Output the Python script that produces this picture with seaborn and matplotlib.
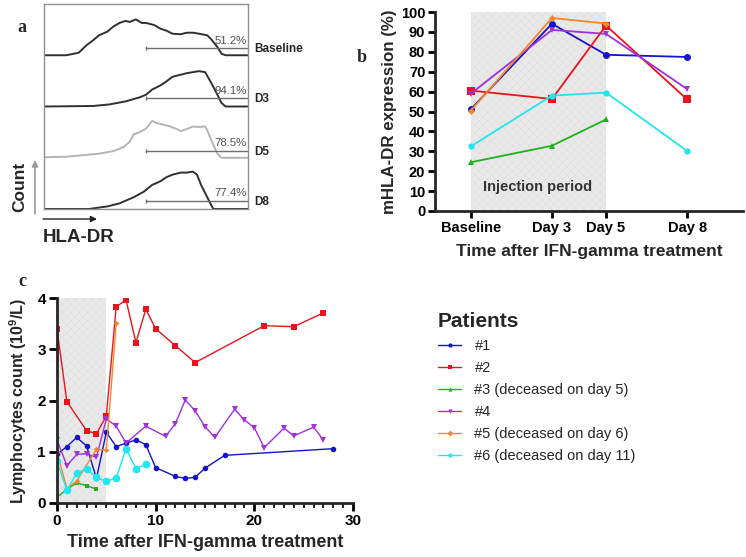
import numpy as np
import matplotlib
matplotlib.use("Agg")
import matplotlib.pyplot as plt
import seaborn as sns
from matplotlib.lines import Line2D

# ---- panel a: HLA-DR flow histograms (x in % of axis, height as fraction of track)
base_x = [0, 11, 17, 21, 24, 27, 31, 34, 37, 40, 42, 45, 48, 50, 54, 57, 60, 63, 67, 70, 73, 76, 80, 82, 85, 87, 89, 100]
base_h = [0, 0, 0.05, 0.20, 0.29, 0.39, 0.46, 0.56, 0.63, 0.67, 0.65, 0.70, 0.63, 0.63, 0.59, 0.52, 0.48, 0.42, 0.41, 0.44, 0.44, 0.42, 0.39, 0.31, 0.16, 0.03, 0, 0]
d3_x = [0, 24, 32, 40, 47, 50, 53, 57, 60, 63, 67, 70, 73, 76, 79, 80, 82, 85, 87, 89, 100]
d3_h = [0, 0.01, 0.04, 0.10, 0.18, 0.23, 0.33, 0.41, 0.49, 0.58, 0.62, 0.65, 0.67, 0.69, 0.67, 0.60, 0.46, 0.23, 0.07, 0, 0]
d5_x = [0, 11, 19, 27, 34, 39, 42, 44, 47, 50, 53, 55, 58, 62, 65, 67, 70, 73, 76, 79, 80, 82, 85, 87, 100]
d5_h = [0.01, 0.02, 0.05, 0.08, 0.13, 0.21, 0.31, 0.46, 0.50, 0.57, 0.72, 0.68, 0.65, 0.61, 0.56, 0.52, 0.56, 0.61, 0.60, 0.61, 0.54, 0.34, 0.08, 0, 0]
d8_x = [0, 22, 31, 37, 44, 49, 53, 57, 60, 63, 67, 70, 73, 75, 77, 80, 83, 100]
d8_h = [0, 0, 0.05, 0.11, 0.23, 0.34, 0.47, 0.54, 0.62, 0.67, 0.71, 0.71, 0.73, 0.67, 0.47, 0.23, 0, 0]
track_names = ["Baseline", "D3", "D5", "D8"]
track_pct = ["51.2%", "94.1%", "78.5%", "77.4%"]
gate_start = 50
gate_level = [0.14, 0.16, 0.14, 0.16]

# ---- panel b: mHLA-DR expression (%)
b_days = [0, 3, 5, 8]
b_ticklabels = ["Baseline", "Day 3", "Day 5", "Day 8"]
b_p1 = [51.2, 94.1, 78.5, 77.4]
b_p2 = [60.5, 56.3, 93.2, 56.1]
b_p3 = [24.5, 32.8, 46.0]
b_p4 = [59.0, 91.0, 89.0, 61.3]
b_p5 = [50.5, 97.0, 94.2]
b_p6 = [32.5, 58.0, 59.5, 30.2]

# ---- panel c: lymphocyte counts (10^9/L)
c_d1 = [0, 1, 2, 3, 4, 5, 6, 7, 8, 9, 10, 12, 13, 14, 15, 17, 28]
c_p1 = [0.95, 1.10, 1.28, 1.11, 0.48, 1.38, 1.10, 1.17, 1.23, 1.14, 0.69, 0.52, 0.48, 0.50, 0.68, 0.93, 1.06]
c_d2 = [0, 1, 3, 4, 5, 6, 7, 8, 9, 10, 12, 14, 21, 24, 27]
c_p2 = [3.39, 1.98, 1.41, 1.35, 1.70, 3.83, 3.96, 3.13, 3.78, 3.40, 3.07, 2.74, 3.46, 3.44, 3.71]
c_d3 = [0, 1, 2, 3, 4]
c_p3 = [0.11, 0.27, 0.39, 0.34, 0.27]
c_d4 = [0, 1, 2, 3, 4, 5, 6, 7, 9, 11, 12, 13, 14, 15, 16, 18, 19, 20, 21, 23, 24, 26, 27]
c_p4 = [1.23, 0.73, 0.95, 0.96, 0.89, 1.64, 1.50, 1.17, 1.50, 1.30, 1.55, 2.01, 1.80, 1.49, 1.28, 1.83, 1.62, 1.47, 1.08, 1.46, 1.31, 1.48, 1.23]
c_d5 = [0, 1, 2, 4, 5, 6]
c_p5 = [1.00, 0.28, 0.43, 1.05, 1.03, 3.51]
c_d6 = [0, 1, 2, 3, 4, 5, 6, 7, 8, 9]
c_p6 = [0.81, 0.25, 0.58, 0.67, 0.50, 0.42, 0.49, 1.06, 0.67, 0.76]

patients = ["#1", "#2", "#3 (deceased on day 5)", "#4",
            "#5 (deceased on day 6)", "#6 (deceased on day 11)"]
colors = ["#1414c8", "#e8141c", "#20b020", "#a030d8", "#f08a28", "#20e6f0"]
markers = ["o", "s", "^", "v", "D", "o"]

sns.set_style("ticks")
plt.rcParams["font.family"] = ["Liberation Sans", "DejaVu Sans"]
plt.rcParams["mathtext.fontset"] = "custom"
plt.rcParams["mathtext.bf"] = "Liberation Sans:bold"
plt.rcParams["hatch.linewidth"] = 0.3

W, H = 746, 557
fig = plt.figure(figsize=(W / 100, H / 100), dpi=100)


def box(x0, y0, x1, y1):
    return [x0 / W, 1 - y1 / H, (x1 - x0) / W, (y1 - y0) / H]


def fp(x, y):
    return (x / W, 1 - y / H)


# ================= panel a =================
axa = fig.add_axes(box(44, 4, 248, 209))
curves = [(base_x, base_h), (d3_x, d3_h), (d5_x, d5_h), (d8_x, d8_h)]
for i, (xs, hs) in enumerate(curves):
    base = 3 - i
    col = "#b4b4b4" if i == 2 else "#303030"
    sns.lineplot(x=xs, y=np.array(hs) + base, ax=axa, color=col, lw=1.4)
    axa.hlines(base + gate_level[i], gate_start, 100, color="#707070", lw=1)
    axa.vlines(gate_start, base + gate_level[i] - 0.04, base + gate_level[i] + 0.04,
               color="#707070", lw=1)
    axa.text(99.5, base + gate_level[i] + 0.05, track_pct[i], ha="right", va="bottom",
             fontsize=8.2, color="#505050")
    axa.text(103, base + gate_level[i] - 0.02, track_names[i], ha="left", va="center",
             fontsize=8.5, fontweight="bold", clip_on=False)
axa.set_xlim(0, 100)
axa.set_ylim(0, 4)
axa.set_xticks([])
axa.set_yticks([])
axa.set_xlabel("")
axa.set_ylabel("")
for s in axa.spines.values():
    s.set_color("#909090")
    s.set_linewidth(1)

fig.text(*fp(22, 27), "a", fontsize=13, fontweight="bold", family="Liberation Serif",
         ha="center", va="center")
fig.text(*fp(20, 187), "Count", fontsize=12.5, fontweight="bold", rotation=90,
         ha="center", va="center")
fig.text(*fp(43, 237), "HLA-DR", fontsize=13.5, fontweight="bold", ha="left", va="center")
axa.annotate("", xy=fp(35, 160), xytext=fp(35, 214), xycoords="figure fraction",
             arrowprops=dict(arrowstyle="-|>", color="#999999", lw=1.2,
                             mutation_scale=9, shrinkA=0, shrinkB=0))
axa.annotate("", xy=fp(97, 219), xytext=fp(43, 219), xycoords="figure fraction",
             arrowprops=dict(arrowstyle="-|>", color="#222222", lw=1.0,
                             mutation_scale=9, shrinkA=0, shrinkB=0))

# ================= panel b =================
axb = fig.add_axes(box(435, 12, 743, 211))
axb.axvspan(0, 5, ymin=0, ymax=1, facecolor="#e9e9e9", edgecolor="#dadada",
            hatch="xxxx", lw=0, zorder=0)
b_series = [(b_days, b_p1), (b_days, b_p2), (b_days[:3], b_p3), (b_days, b_p4),
            (b_days[:3], b_p5), (b_days, b_p6)]
b_ms = [5, 6, 4.5, 4.5, 3.5, 4.5]
for i, (xs, ys) in enumerate(b_series):
    sns.lineplot(x=xs, y=ys, ax=axb, color=colors[i], marker=markers[i],
                 markersize=b_ms[i], markeredgewidth=0, lw=1.3)
axb.text(2.48, 12, "Injection period", ha="center", va="center", fontsize=10.5,
         fontweight="bold", color="#333333")
axb.set_xlim(-1.33, 10.07)
axb.set_ylim(0, 100)
axb.set_yticks(range(0, 101, 10))
axb.set_xticks(b_days)
axb.set_xticklabels(b_ticklabels)
axb.set_ylabel("mHLA-DR expression (%)", fontsize=12.2, fontweight="bold", labelpad=3)
axb.set_xlabel("Time after IFN-gamma treatment", fontsize=12.5, fontweight="bold", labelpad=7)
for lab in axb.get_xticklabels() + axb.get_yticklabels():
    lab.set_fontweight("bold")
    lab.set_fontsize(10.5)
sns.despine(ax=axb)
for s in ["left", "bottom"]:
    axb.spines[s].set_linewidth(2)
axb.tick_params(axis="both", width=2, length=5, pad=2, colors="black")
fig.text(*fp(362, 57), "b", fontsize=13, fontweight="bold", family="Liberation Serif",
         ha="center", va="center")

# ================= panel c =================
axc = fig.add_axes(box(57, 298, 353, 503))
axc.axvspan(0, 5, ymin=0, ymax=1, facecolor="#e9e9e9", edgecolor="#dadada",
            hatch="xxxx", lw=0, zorder=0)
c_series = [(c_d1, c_p1), (c_d2, c_p2), (c_d3, c_p3), (c_d4, c_p4), (c_d5, c_p5), (c_d6, c_p6)]
c_ms = [4, 4.5, 3.2, 3.8, 2.8, 5.5]
for i, (xs, ys) in enumerate(c_series):
    sns.lineplot(x=xs, y=ys, ax=axc, color=colors[i], marker=markers[i] if i != 2 else "s",
                 markersize=c_ms[i], markeredgewidth=0, lw=1.0)
axc.set_xlim(0, 30)
axc.set_ylim(0, 4)
axc.set_xticks([0, 10, 20, 30])
axc.set_xticks(range(0, 31), minor=True)
axc.set_yticks([0, 1, 2, 3, 4])
axc.set_ylabel(r"Lymphocytes count (10$^{\mathbf{9}}$/L)", fontsize=11.5,
               fontweight="bold", labelpad=6)
axc.set_xlabel("Time after IFN-gamma treatment", fontsize=13, fontweight="bold", labelpad=4)
for lab in axc.get_xticklabels() + axc.get_yticklabels():
    lab.set_fontweight("bold")
    lab.set_fontsize(11)
sns.despine(ax=axc)
for s in ["left", "bottom"]:
    axc.spines[s].set_linewidth(2)
axc.tick_params(axis="both", which="major", width=2, length=6, pad=2, colors="black")
axc.tick_params(axis="x", which="minor", width=1.5, length=3.5)
fig.text(*fp(22, 282), "c", fontsize=13, fontweight="bold", family="Liberation Serif",
         ha="center", va="center")

# ================= legend =================
handles = [Line2D([], [], color=colors[i], marker=markers[i] if i != 2 else "^",
                  markersize=3, markeredgewidth=0, lw=1) for i in range(6)]
leg = fig.legend(handles, patients, loc="upper left", bbox_to_anchor=fp(438, 312),
                 frameon=False, title="Patients", fontsize=10.5,
                 title_fontproperties={"weight": "bold", "size": 15},
                 alignment="left", handlelength=1.6, handletextpad=0.9,
                 labelspacing=0.55, borderpad=0, borderaxespad=0)

fig.savefig("out.png", dpi=100)
